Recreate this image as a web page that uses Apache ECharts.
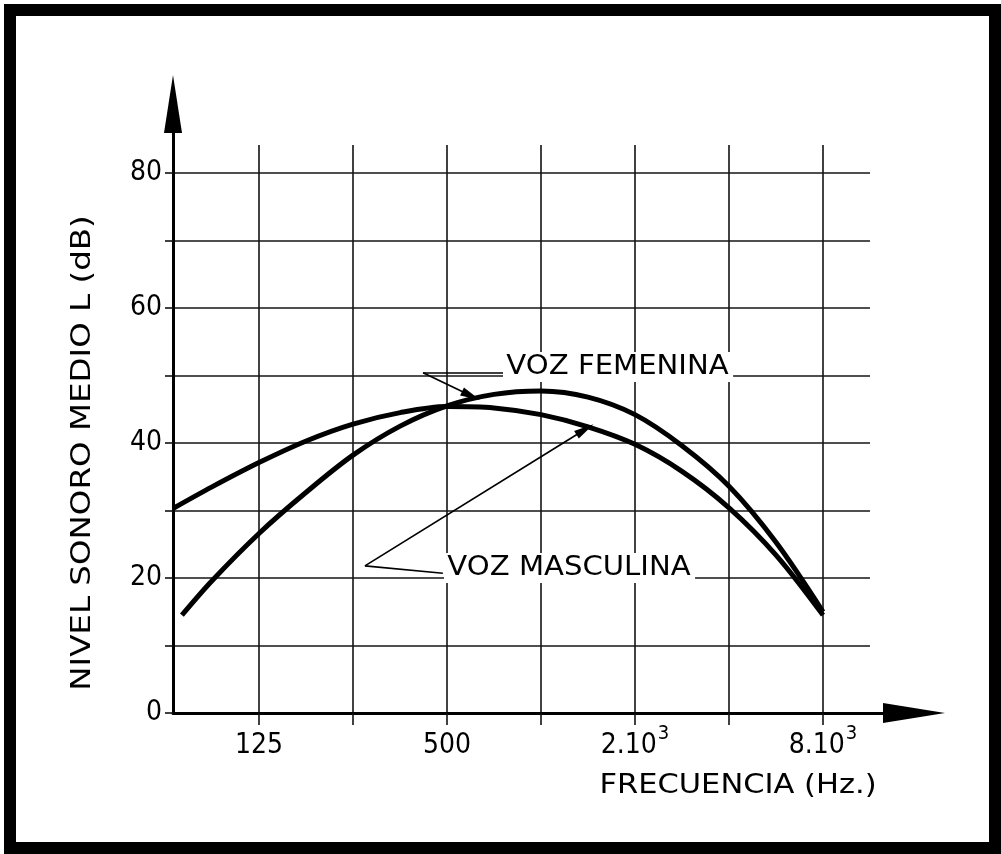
<!DOCTYPE html>
<html>
<head>
<meta charset="utf-8">
<script src="https://cdn.jsdelivr.net/npm/echarts@6/dist/echarts.min.js"></script>
<style>
html,body{margin:0;padding:0;background:#fff;}
#c{width:1001px;height:854px;}
</style>
</head>
<body>
<div id="c"></div>
<script>
// ---- Data ----
const freqMasculina  = [66.3, 88.4, 125, 177, 250, 354, 500, 707, 1000, 1414, 2000, 2828, 4000, 5657, 8000];
const nivelMasculina = [30.3, 33.5, 37.1, 40.3, 42.8, 44.5, 45.4, 45.2, 44.2, 42.4, 39.8, 35.8, 30.4, 23.4, 14.5];
const freqFemenina   = [70.8, 88.4, 125, 177, 250, 354, 500, 707, 1000, 1414, 2000, 2828, 4000, 5657, 8000];
const nivelFemenina  = [14.5, 19.6, 26.6, 32.7, 38.2, 42.5, 45.5, 47.2, 47.7, 46.8, 44.2, 39.6, 33.6, 25.3, 15.0];

const xTickValues  = [125, 250, 500, 1000, 2000, 4000, 8000];
const xLabelValues = [125, 500, 2000, 8000];
const xLabelBase   = ['125', '500', '2.10', '8.10'];
const xLabelSup    = ['', '', '3', '3'];
const yLabelValues = [0, 20, 40, 60, 80];

const yTitle = 'NIVEL SONORO MEDIO L (dB)';
const xTitle = 'FRECUENCIA (Hz.)';
const labelFemenina  = 'VOZ FEMENINA';
const labelMasculina = 'VOZ MASCULINA';

// leader lines (data coordinates: [Hz, dB])
const leaderFemenina  = [[756, 50.4], [419, 50.4], [597, 47.0]];
const leaderMasculina = [[485, 20.7], [273, 21.8], [1383, 42.0]];

// ---- Chart ----
const FONT  = '"DejaVu Sans Condensed", "DejaVu Sans", sans-serif';
const FONTW = '"DejaVu Sans", sans-serif';
const X_MIN = 66.3, X_MAX = 11314;
const gridLine = {color: '#141414', width: 1.6};

function leader(pts) {
  return [
    [{coord: pts[0]}, {coord: pts[1]}],
    [{coord: pts[1]}, {coord: pts[2], symbol: 'triangle', symbolSize: [9, 20]}]
  ];
}

const chart = echarts.init(document.getElementById('c'), null, {renderer: 'canvas'});
const option = {
  animation: false,
  backgroundColor: '#fff',
  grid: [
    {left: 173, right: 87, top: 104, bottom: 141},
    {left: 173, right: 131, top: 173, bottom: 141}
  ],
  xAxis: [
    {
      gridIndex: 0, type: 'value', min: 0, max: 1,
      axisLine: {show: true, symbol: ['none', 'triangle'], symbolSize: [20, 62], lineStyle: {color: '#000', width: 3}},
      axisTick: {show: false}, axisLabel: {show: false}, splitLine: {show: false}
    },
    {
      gridIndex: 1, type: 'log', logBase: 2, min: X_MIN, max: X_MAX,
      axisLine: {show: false},
      axisTick: {show: true, customValues: xTickValues, length: 12, inside: false, lineStyle: {color: '#111', width: 1.6}},
      axisLabel: {
        show: true, customValues: xLabelValues, margin: 11, color: '#000',
        formatter: function (v) {
          const i = xLabelValues.indexOf(Math.round(v));
          if (i < 0) return '';
          return '{b|' + xLabelBase[i] + '}' + (xLabelSup[i] ? '{s|' + xLabelSup[i] + '}' : '');
        },
        rich: {
          b: {fontSize: 28, fontFamily: FONT, color: '#000', padding: [8, 0, 0, 0]},
          s: {fontSize: 20, fontFamily: FONT, color: '#000', verticalAlign: 'top', padding: [0, 0, 0, 1]}
        }
      },
      splitLine: {show: true, lineStyle: gridLine}
    },
    {
      gridIndex: 1, type: 'log', logBase: 2, min: X_MIN, max: X_MAX, position: 'top',
      axisLine: {show: false},
      axisTick: {show: true, customValues: xTickValues, length: 28, inside: false, lineStyle: {color: '#111', width: 1.6}},
      axisLabel: {show: false}, splitLine: {show: false}
    }
  ],
  yAxis: [
    {
      gridIndex: 0, type: 'value', min: 0, max: 1,
      axisLine: {show: true, symbol: ['none', 'triangle'], symbolSize: [18, 58], lineStyle: {color: '#000', width: 3}},
      axisTick: {show: false}, axisLabel: {show: false}, splitLine: {show: false}
    },
    {
      gridIndex: 1, type: 'value', min: 0, max: 80, interval: 10,
      axisLine: {show: false},
      axisTick: {show: true, length: 8, inside: false, lineStyle: {color: '#111', width: 1.6}},
      axisLabel: {
        margin: 11, color: '#000', fontSize: 28, fontFamily: FONT,
        formatter: function (v) { return yLabelValues.indexOf(v) >= 0 ? String(v) : ''; }
      },
      splitLine: {show: true, lineStyle: gridLine}
    }
  ],
  series: [
    {
      name: 'Voz masculina', type: 'line', xAxisIndex: 1, yAxisIndex: 1,
      data: freqMasculina.map((f, i) => [f, nivelMasculina[i]]),
      smooth: 0.33, symbol: 'none', clip: false,
      lineStyle: {color: '#000', width: 5},
      markLine: {
        silent: true, symbol: ['none', 'none'], label: {show: false},
        lineStyle: {color: '#000', width: 1.7, type: 'solid'},
        data: leader(leaderMasculina)
      },
      z: 5
    },
    {
      name: 'Voz femenina', type: 'line', xAxisIndex: 1, yAxisIndex: 1,
      data: freqFemenina.map((f, i) => [f, nivelFemenina[i]]),
      smooth: 0.33, symbol: 'none', clip: false,
      lineStyle: {color: '#000', width: 5},
      markLine: {
        silent: true, symbol: ['none', 'none'], label: {show: false},
        lineStyle: {color: '#000', width: 1.7, type: 'solid'},
        data: leader(leaderFemenina)
      },
      z: 5
    }
  ],
  graphic: [
    {
      type: 'rect', silent: true, z: 100,
      shape: {x: 10, y: 10, width: 985, height: 838},
      style: {fill: 'none', stroke: '#000', lineWidth: 12}
    },
    {
      type: 'text', x: 83, y: 453, rotation: Math.PI / 2, scaleX: 1.25, z: 10,
      style: {text: yTitle, fontSize: 26, fontFamily: FONTW, fill: '#000', align: 'center', verticalAlign: 'middle'}
    },
    {
      type: 'text', x: 738, y: 786, scaleX: 1.13, z: 10,
      style: {text: xTitle, fontSize: 27, fontFamily: FONTW, fill: '#000', align: 'center', verticalAlign: 'middle'}
    },
    {
      type: 'text', x: 503, y: 367, scaleX: 1.12, z: 10,
      style: {text: labelFemenina, fontSize: 26, fontFamily: FONTW, fill: '#000', align: 'left', verticalAlign: 'middle',
              backgroundColor: '#fff', padding: [2, 4, 2, 3]}
    },
    {
      type: 'text', x: 444, y: 568, scaleX: 1.12, z: 10,
      style: {text: labelMasculina, fontSize: 26, fontFamily: FONTW, fill: '#000', align: 'left', verticalAlign: 'middle',
              backgroundColor: '#fff', padding: [2, 4, 2, 3]}
    }
  ]
};
chart.setOption(option);
</script>
</body>
</html>
